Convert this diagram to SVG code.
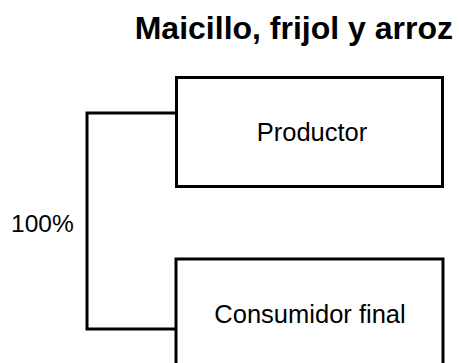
<svg xmlns="http://www.w3.org/2000/svg" width="459" height="363" viewBox="0 0 459 363">
<style>
.box{fill:#fff;stroke:#000;stroke-width:3}
.conn{fill:none;stroke:#000;stroke-width:3}
.t{font-family:"Liberation Sans",Arial,sans-serif;fill:#000}
</style>
<rect width="459" height="363" fill="#fff"/>
<text class="t" x="453" y="39" text-anchor="end" font-size="32" font-weight="bold">Maicillo, frijol y arroz</text>
<g id="connectors">
<path class="conn" d="M176,113 H87 V329 H176"/>
</g>
<g id="productor">
<rect class="box" x="176.5" y="77.5" width="266" height="109"/>
<text class="t" x="312" y="141" text-anchor="middle" font-size="25.5">Productor</text>
</g>
<g id="consumidor">
<rect class="box" x="176" y="259" width="267" height="120"/>
<text class="t" x="310" y="322.5" text-anchor="middle" font-size="25.5">Consumidor final</text>
</g>
<text class="t" x="11" y="232" font-size="24.5">100%</text>
</svg>
